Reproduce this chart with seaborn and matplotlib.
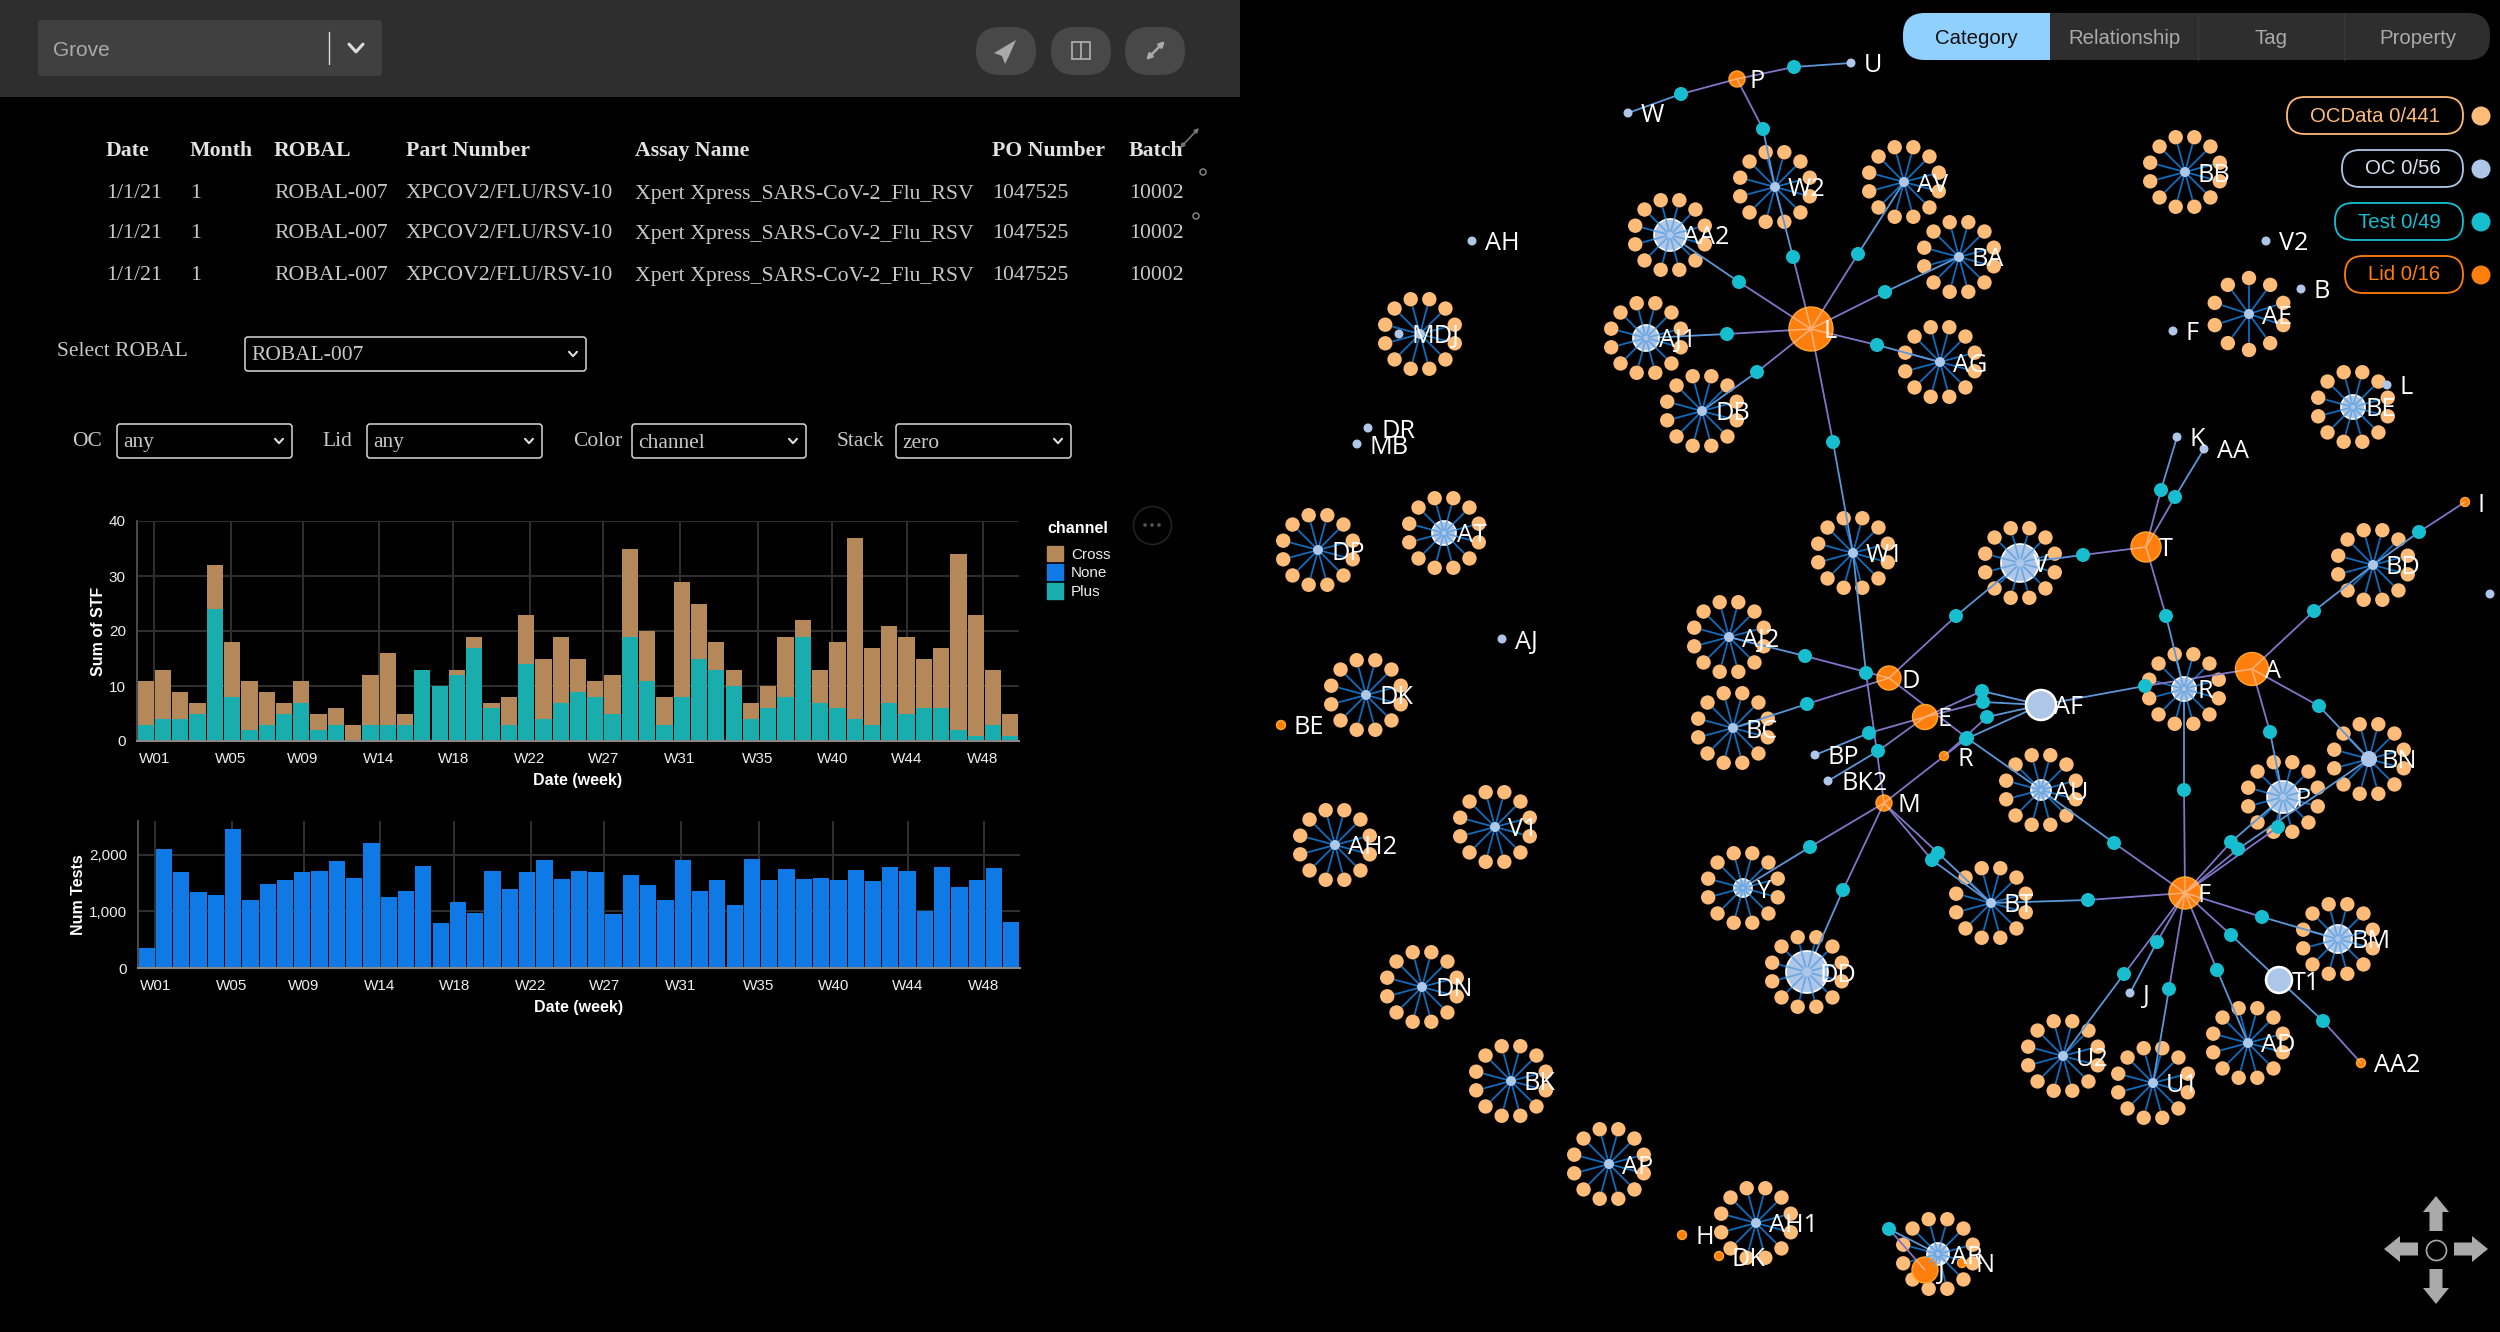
"""Grove dashboard: QC table, weekly bar charts and the category graph."""

import matplotlib
matplotlib.use('Agg')
import matplotlib.pyplot as plt
import matplotlib.patches as mpatches
import numpy as np
import seaborn as sns

W, H = 2500, 1332

# ------------------------------------------------------------------ #
# Bar chart data
# ------------------------------------------------------------------ #
week_ids = list(range(51))
plus_values = [3, 4, 4, 5, 24, 8, 2, 3, 5, 7, 2, 3, 0, 3, 3, 3, 13, 10, 12, 17, 6, 3, 14, 4, 7, 9,
               8, 5, 19, 11, 3, 8, 15, 13, 10, 4, 6, 8, 19, 7, 6, 4, 3, 7, 5, 6, 6, 2, 1, 3, 1]
total_values = [11, 13, 9, 7, 32, 18, 11, 9, 7, 11, 5, 6, 3, 12, 16, 5, 13, 10, 13, 19, 7, 8, 23, 15, 19, 15,
                11, 12, 35, 20, 8, 29, 25, 18, 13, 7, 10, 19, 22, 13, 18, 37, 17, 21, 19, 15, 17, 34, 23, 13, 5]
num_tests = [350, 2100, 1700, 1350, 1290, 2450, 1210, 1490, 1550, 1690, 1710, 1890, 1590, 2210, 1250, 1370, 1810,
             790, 1170, 980, 1710, 1390, 1690, 1910, 1570, 1710, 1690, 950, 1650, 1470, 1210, 1910, 1370, 1550,
             1110, 1930, 1550, 1750, 1570, 1590, 1550, 1730, 1530, 1790, 1710, 1000, 1790, 1430, 1550, 1770, 810]
week_labels = ['W01', 'W05', 'W09', 'W14', 'W18', 'W22', 'W27', 'W31', 'W35', 'W40', 'W44', 'W48']
# month starts fall between the weekly bars
week_tick_pos = [0.5, 4.93, 9.1, 13.5, 17.8, 22.2, 26.45, 30.9, 35.4, 39.7, 44.0, 48.4]

table_cols = ['Date', 'Month', 'ROBAL', 'Part Number', 'Assay Name', 'PO Number', 'Batch']
table_row = ['1/1/21', '1', 'ROBAL-007', 'XPCOV2/FLU/RSV-10', 'Xpert Xpress_SARS-CoV-2_Flu_RSV', '1047525', '10002']

# ------------------------------------------------------------------ #
# Graph data (pixel positions)
# ------------------------------------------------------------------ #
# OC nodes that carry a ring of OCData nodes
cluster_names = ['W2', 'AV', 'AA2', 'BA', 'AJ1', 'AG', 'DB', 'BB', 'AE', 'BE', 'MD', 'DP', 'AT', 'DK', 'V1', 'AH2',
                 'DN', 'BK', 'AP', 'AH1', 'AR', 'W1', 'V', 'R', 'BD', 'AJ2', 'BC', 'AU', 'P', 'BN', 'Y', 'BT', 'BM',
                 'DD', 'U2', 'U1', 'AD']
cluster_x = [1775, 1904, 1670, 1959, 1646, 1940, 1702, 2185, 2249, 2353, 1420, 1318, 1444, 1366, 1495, 1335,
             1422, 1511, 1609, 1756, 1938, 1853, 2020, 2184, 2373, 1729, 1733, 2041, 2283, 2369, 1743, 1991, 2338,
             1807, 2063, 2153, 2248]
cluster_y = [187, 182, 235, 257, 338, 362, 411, 172, 314, 407, 334, 550, 533, 695, 827, 845,
             987, 1081, 1164, 1223, 1254, 553, 563, 689, 565, 637, 728, 790, 797, 759, 888, 903, 939,
             972, 1056, 1083, 1043]
cluster_r = [5, 5, 16, 5, 13, 5, 5, 5, 5, 12, 5, 5, 12, 5, 5, 5,
             5, 5, 5, 5, 11, 5, 19, 12, 5, 5, 5, 10, 16, 8, 9, 5, 14,
             21, 5, 5, 5]
cluster_petals = [10 if n == 'AE' else 12 for n in cluster_names]

leaf_names = ['U', 'W', 'AH', 'DR', 'MB', 'MDJ', 'AJ', 'V2', 'B', 'F', 'L', 'K', 'AA', 'BP', 'BK2', 'J', '', 'AF', 'T1']
leaf_x = [1851, 1628, 1472, 1368, 1357, 1399, 1502, 2266, 2301, 2173, 2387, 2177, 2204, 1815, 1828, 2130, 2490, 2041, 2279]
leaf_y = [63, 113, 241, 428, 444, 334, 639, 241, 289, 331, 385, 437, 449, 755, 781, 993, 594, 705, 980]
leaf_r = [4.5, 4.5, 4.5, 4.5, 4.5, 4.5, 4.5, 4.5, 4.5, 4.5, 4.5, 4.5, 4.5, 4.5, 4.5, 4.5, 4.5, 15, 13]

lid_names = ['L', 'P', 'T', 'D', 'E', 'A', 'F', 'M', 'R', 'I', 'AA2', 'BE', 'H', 'DK', 'N', 'J']
lid_x = [1811, 1737, 2146, 1889, 1925, 2252, 2185, 1884, 1944, 2465, 2361, 1281, 1682, 1719, 1962, 1925]
lid_y = [329, 79, 547, 678, 717, 669, 893, 803, 756, 502, 1063, 725, 1235, 1256, 1263, 1270]
lid_r = [22, 8, 15, 12, 12.5, 16.5, 16, 8, 4.5, 4.5, 4.5, 4.5, 4.5, 4.5, 4.5, 13]

# each Test node sits between one Lid and one OC
test_x = [1681, 1794, 1763, 1793, 1858, 1739, 1885, 1727, 1877, 1757, 1833, 2161, 2175, 2083, 1956, 2166, 2314,
          2419, 1805, 1866, 1807, 1982, 1983, 1987, 2145, 1869, 1878, 1967, 2319, 2270, 2184, 2114, 2278, 2231,
          2238, 1810, 1938, 1932, 1843, 2088, 2262, 2231, 2157, 2217, 2124, 2169, 2323, 1889, 1966]
test_y = [94, 67, 129, 257, 254, 282, 292, 334, 345, 372, 442, 490, 497, 555, 616, 616, 611,
          532, 656, 673, 704, 691, 702, 717, 686, 733, 751, 738, 706, 732, 790, 843, 827, 842,
          849, 847, 853, 860, 890, 900, 917, 935, 942, 970, 974, 989, 1021, 1229, 739]
test_lid = ['P', 'P', 'P', 'L', 'L', 'L', 'L', 'L', 'L', 'L', 'L', 'T', 'T', 'T', 'D', 'T', 'A',
            'I', 'D', 'M', 'D', 'E', 'E', 'R', 'A', 'E', 'E', 'D', 'A', 'A', 'F', 'F', 'F', 'F',
            'F', 'M', 'M', 'M', 'M', 'F', 'F', 'F', 'F', 'F', 'F', 'F', 'AA2', 'J', 'M']
test_oc = ['W', 'U', 'W2', 'W2', 'AV', 'AA2', 'BA', 'AJ1', 'AG', 'DB', 'W1', 'K', 'AA', 'V', 'V', 'R', 'BD',
           'BD', 'AJ2', 'W1', 'BC', 'AF', 'AF', 'AF', 'AF', 'BP', 'BK2', 'AU', 'BN', 'P', 'R', 'AU', 'P', 'P',
           'BN', 'Y', 'BT', 'BT', 'DD', 'BT', 'BM', 'T1', 'J', 'AD', 'U2', 'U1', 'T1', 'AR', 'AF']

legend_labels = ['OCData 0/441', 'OC 0/56', 'Test 0/49', 'Lid 0/16']
legend_colors = ['#ffbb78', '#aec7e8', '#17becf', '#ff7f0e']
legend_left = [2287, 2342, 2335, 2345]
tab_labels = ['Category', 'Relationship', 'Tag', 'Property']

CROSS = '#b5885a'
NONE = '#0f7ae5'
PLUS = '#1aadad'
GRID = '#2e2e2e'
SERIF = 'Liberation Serif'


def px_axes(fig, x0, y0, x1, y1):
    """Axes placed by pixel box, y measured from the top."""
    return fig.add_axes([x0 / W, 1 - y1 / H, (x1 - x0) / W, (y1 - y0) / H])


def style_bars(ax, ylabel, yticks, yticklabels, ymax):
    ax.set_xlim(-0.5, 50.5)
    ax.set_ylim(0, ymax)
    ax.set_xticks(week_tick_pos)
    ax.set_xticklabels(week_labels)
    ax.set_yticks(yticks)
    ax.set_yticklabels(yticklabels)
    ax.set_axisbelow(True)
    ax.grid(True, color=GRID, lw=1.5)
    ax.tick_params(axis='both', length=4, width=1, color='#888888', labelcolor='#eeeeee', labelsize=11, pad=4)
    ax.set_xlabel('Date (week)', fontsize=11.5, fontweight='bold', color='white', labelpad=5)
    ax.set_ylabel(ylabel, fontsize=11.5, fontweight='bold', color='white', labelpad=2)
    ax.set_facecolor('none')
    for side in ['top', 'right']:
        ax.spines[side].set_visible(False)
    ax.spines['left'].set_color('#555555')
    ax.spines['bottom'].set_color('#888888')
    ax.spines['bottom'].set_linewidth(1.5)


def circles(ax, x, y, r, color, zorder, edge='none', lw=0):
    # scatter size is in points squared, radii here are pixels
    s = (2 * np.asarray(r, dtype=float) * 72 / 100) ** 2
    sns.scatterplot(x=list(x), y=list(y), s=s, color=color, edgecolor=edge, linewidth=lw,
                    zorder=zorder, legend=False, ax=ax, clip_on=False)


def chevron(ax, x, y, color='#dddddd', size=6, lw=1.6):
    ax.plot([x - size, x, x + size], [y - size * 0.55, y + size * 0.55, y - size * 0.55],
            color=color, lw=lw, zorder=3, solid_capstyle='round')


def select_box(ax, x0, y0, x1, y1, value):
    ax.add_patch(mpatches.FancyBboxPatch((x0, y0), x1 - x0, y1 - y0, boxstyle='round,pad=0,rounding_size=3',
                                         fc='black', ec='#d8d8d8', lw=1.1, zorder=2))
    ax.text(x0 + 6, (y0 + y1) / 2 + 2, value, color='#c8c8c8', fontsize=15.5, family=SERIF,
            va='center', zorder=3)
    chevron(ax, x1 - 13, (y0 + y1) / 2, size=4, lw=1.5)


def pill(ax, x0, y0, x1, y1, fc, ec, round_size, lw=1.2, zorder=2):
    ax.add_patch(mpatches.FancyBboxPatch((x0, y0), x1 - x0, y1 - y0,
                                         boxstyle=f'round,pad=0,rounding_size={round_size}',
                                         fc=fc, ec=ec, lw=lw, zorder=zorder))


def double_arrow(ax, x0, y0, x1, y1, color, lw, scale, zorder=3):
    ax.annotate('', xy=(x1, y1), xytext=(x0, y0), zorder=zorder,
                arrowprops=dict(arrowstyle='<|-|>', color=color, lw=lw, mutation_scale=scale,
                                shrinkA=0, shrinkB=0))


# ------------------------------------------------------------------ #
# Figure
# ------------------------------------------------------------------ #
sns.set_theme(style='dark', rc={'figure.facecolor': 'black', 'axes.facecolor': 'black'})
plt.rcParams['font.family'] = ['Liberation Sans', 'DejaVu Sans']

fig = plt.figure(figsize=(W / 100, H / 100), dpi=100, facecolor='black')

canvas = fig.add_axes([0, 0, 1, 1])
canvas.set_xlim(0, W)
canvas.set_ylim(H, 0)
canvas.axis('off')
canvas.autoscale(False)

# ---- top bar ------------------------------------------------------ #
canvas.add_patch(mpatches.Rectangle((0, 0), 1240, 97, fc='#2e2e2e', ec='none', zorder=1))
pill(canvas, 38, 20, 382, 76, '#404040', 'none', 4)
canvas.text(53, 50, 'Grove', color='#aaaaaa', fontsize=15, va='center', zorder=3)
canvas.plot([329, 329], [32, 64], color='#dddddd', lw=1, zorder=3)
chevron(canvas, 356, 48, size=7, lw=2.2)
for cx in [1006, 1081, 1155]:
    pill(canvas, cx - 30, 27, cx + 30, 75, '#484848', 'none', 24)
canvas.add_patch(mpatches.Polygon([(1016, 40), (994, 53), (1002, 56), (1005, 64), (1009, 56)],
                                  fc='#aaaaaa', ec='none', zorder=3))
canvas.add_patch(mpatches.Rectangle((1072, 42), 18, 17, fc='none', ec='#aaaaaa', lw=1.3, zorder=3))
canvas.plot([1081, 1081], [42, 59], color='#aaaaaa', lw=1.3, zorder=3)
double_arrow(canvas, 1146, 60, 1165, 41, '#aaaaaa', 1.8, 8)

# ---- table -------------------------------------------------------- #
col_x = [106, 190, 274, 406, 635, 992, 1129]
for name, cx in zip(table_cols, col_x):
    canvas.text(cx, 151, name, color='#e2e2e2', fontsize=15.7, family=SERIF, fontweight='bold',
                va='center', zorder=3)
for ry in [194, 234, 276]:
    for val, cx in zip(table_row, col_x):
        canvas.text(cx, ry, val, color='#c8c8c8', fontsize=15.7, family=SERIF, va='center', zorder=3)
double_arrow(canvas, 1180, 148, 1199, 128, '#777777', 1.2, 6, zorder=4)
circles(canvas, [1203, 1196], [172, 216], [3, 3], 'black', 4, edge='#777777', lw=1.2)

# ---- selects ------------------------------------------------------ #
canvas.text(57, 352, 'Select ROBAL', color='#c8c8c8', fontsize=15.5, family=SERIF, va='center')
select_box(canvas, 245, 337, 586, 371, 'ROBAL-007')
for label, lx, x0, x1, val in [('OC', 72, 117, 292, 'any'), ('Lid', 322, 367, 542, 'any'),
                               ('Color', 573, 632, 806, 'channel'), ('Stack', 837, 896, 1071, 'zero')]:
    canvas.text(lx, 441, label, color='#c8c8c8', fontsize=15.5, family=SERIF, va='center')
    select_box(canvas, x0, 424, x1, 458, val)

# ---- weekly charts ------------------------------------------------ #
ax1 = px_axes(fig, 137, 521, 1019, 741)
sns.barplot(x=week_ids, y=total_values, color=CROSS, saturation=1, width=0.94, linewidth=0, ax=ax1)
sns.barplot(x=week_ids, y=plus_values, color=PLUS, saturation=1, width=0.94, linewidth=0, ax=ax1)
style_bars(ax1, 'Sum of STF', [0, 10, 20, 30, 40], ['0', '10', '20', '30', '40'], 40)
handles = [mpatches.Patch(color=CROSS), mpatches.Patch(color=NONE), mpatches.Patch(color=PLUS)]
leg = ax1.legend(handles, ['Cross', 'None', 'Plus'], title='channel', loc='upper left',
                 bbox_to_anchor=(1.032, 1.0), frameon=False, alignment='left', fontsize=11,
                 handlelength=1.0, handleheight=1.2, handletextpad=0.55, labelspacing=0.17, borderpad=0,
                 borderaxespad=0, title_fontproperties={'weight': 'bold', 'size': 11.5})
leg._legend_box.sep = 7
leg.get_title().set_color('white')
for txt in leg.get_texts():
    txt.set_color('#eeeeee')
circles(canvas, [1152], [525], [19], 'black', 2, edge='#222222', lw=1.2)
circles(canvas, [1145, 1152, 1159], [525, 525, 525], [1.8, 1.8, 1.8], '#555555', 3)

ax2 = px_axes(fig, 138, 821, 1020, 968)
sns.barplot(x=week_ids, y=num_tests, color=NONE, saturation=1, width=0.94, linewidth=0, ax=ax2)
style_bars(ax2, 'Num Tests', [0, 1000, 2000], ['0', '1,000', '2,000'], 2600)

# ---- graph -------------------------------------------------------- #
lid_pos = dict(zip(lid_names, zip(lid_x, lid_y)))
lid_size = dict(zip(lid_names, lid_r))
oc_pos = dict(zip(cluster_names + leaf_names, zip(cluster_x + leaf_x, cluster_y + leaf_y)))

for tx, ty, lid, oc in zip(test_x, test_y, test_lid, test_oc):
    lx, ly = lid_pos[lid]
    ox, oy = oc_pos[oc]
    canvas.plot([lx, tx], [ly, ty], color='#8076c8', lw=1.3, zorder=4)
    canvas.plot([tx, ox], [ty, oy], color='#5b97d8', lw=1.3, zorder=4)
    # the edge stays faintly visible inside the orange disc
    frac = lid_size[lid] / max(np.hypot(tx - lx, ty - ly), 1)
    canvas.plot([lx, lx + frac * (tx - lx)], [ly, ly + frac * (ty - ly)], color='#ffb27a', lw=1.1, zorder=4.8)

# OCData rings around the OC nodes
petal_x, petal_y = [], []
for cx, cy, n, hub_r in zip(cluster_x, cluster_y, cluster_petals, cluster_r):
    start = 15 if n == 12 else 0
    for k in range(n):
        ang = np.deg2rad(start + k * 360 / n)
        sx, sy = np.sin(ang), -np.cos(ang)
        petal_x.append(cx + 36 * sx)
        petal_y.append(cy + 36 * sy)
        canvas.plot([cx, cx + 28 * sx], [cy, cy + 28 * sy], color='#0f6cbd', lw=1.3, zorder=2)
        if hub_r >= 9:
            # spokes read lighter where they cross a big OC disc
            canvas.plot([cx + 0.25 * hub_r * sx, cx + 1.02 * hub_r * sx], [cy + 0.25 * hub_r * sy, cy + 1.02 * hub_r * sy],
                        color='#6fa8e0', lw=1.3, zorder=4.9)
circles(canvas, petal_x, petal_y, [7.2] * len(petal_x), '#ffbb78', 3)

big = [i for i, r in enumerate(cluster_r) if r >= 9]
small = [i for i, r in enumerate(cluster_r) if r < 9]
circles(canvas, [cluster_x[i] for i in big], [cluster_y[i] for i in big], [cluster_r[i] for i in big],
        '#aec7e8', 4.5, edge='white', lw=1.2)
circles(canvas, [cluster_x[i] for i in small], [cluster_y[i] for i in small], [cluster_r[i] for i in small],
        '#aec7e8', 5)
circles(canvas, leaf_x[:-2], leaf_y[:-2], leaf_r[:-2], '#aec7e8', 5)
circles(canvas, leaf_x[-2:], leaf_y[-2:], leaf_r[-2:], '#aec7e8', 5, edge='white', lw=1.8)
circles(canvas, lid_x, lid_y, lid_r, '#ff7f0e', 4.6, edge='#ffa726', lw=1)
circles(canvas, test_x, test_y, [7] * len(test_x), '#17becf', 6)

for names, xs, ys in [(cluster_names, cluster_x, cluster_y), (leaf_names, leaf_x, leaf_y),
                      (lid_names, lid_x, lid_y)]:
    for name, nx, ny in zip(names, xs, ys):
        if name and name != 'MD':
            canvas.text(nx + 13, ny + 3, name, color='white', fontsize=18.2, family='Open Sans', va='center', zorder=7)

# ---- tabs --------------------------------------------------------- #
pill(canvas, 1903, 13, 2490, 60, '#2e2e2e', 'none', 22)
canvas.add_patch(mpatches.FancyBboxPatch((1903, 13), 147, 47, boxstyle='round,pad=0,rounding_size=22',
                                         fc='#90d0ff', ec='none', zorder=3))
canvas.add_patch(mpatches.Rectangle((1960, 13), 90, 47, fc='#90d0ff', ec='none', zorder=3))
for tab_sep in [2198, 2344]:
    canvas.plot([tab_sep, tab_sep], [13, 60], color='#383838', lw=1, zorder=3)
for label, cx, col in zip(tab_labels, [1976, 2124, 2271, 2418], ['#111111', '#aaaaaa', '#aaaaaa', '#aaaaaa']):
    canvas.text(cx, 38, label, color=col, fontsize=14.7, ha='center', va='center', zorder=4)

# ---- category legend ---------------------------------------------- #
for label, col, x0, y0 in zip(legend_labels, legend_colors, legend_left, [97, 150, 203, 256]):
    pill(canvas, x0, y0, 2463, y0 + 37, 'black', col, 18, lw=1.3, zorder=7)
    canvas.text((x0 + 2463) / 2, y0 + 19, label, color=col if col != '#aec7e8' else '#d5e2f3', fontsize=14.7,
                ha='center', va='center', zorder=8)
    circles(canvas, [2481], [y0 + 19], [9.5], col, 8)

# ---- navigation arrows -------------------------------------------- #
for x0, y0, dx, dy in [(2436, 1231, 0, -35), (2436, 1269, 0, 35), (2418, 1249, -34, 0), (2454, 1249, 34, 0)]:
    canvas.add_patch(mpatches.FancyArrow(x0, y0, dx, dy, width=13, head_width=26, head_length=16,
                                         length_includes_head=True, fc='#aaaaaa', ec='none', zorder=5))
circles(canvas, [2436], [1250], [10], 'black', 5, edge='#aaaaaa', lw=1.2)

fig.savefig('out.png', dpi=100, facecolor='black')
